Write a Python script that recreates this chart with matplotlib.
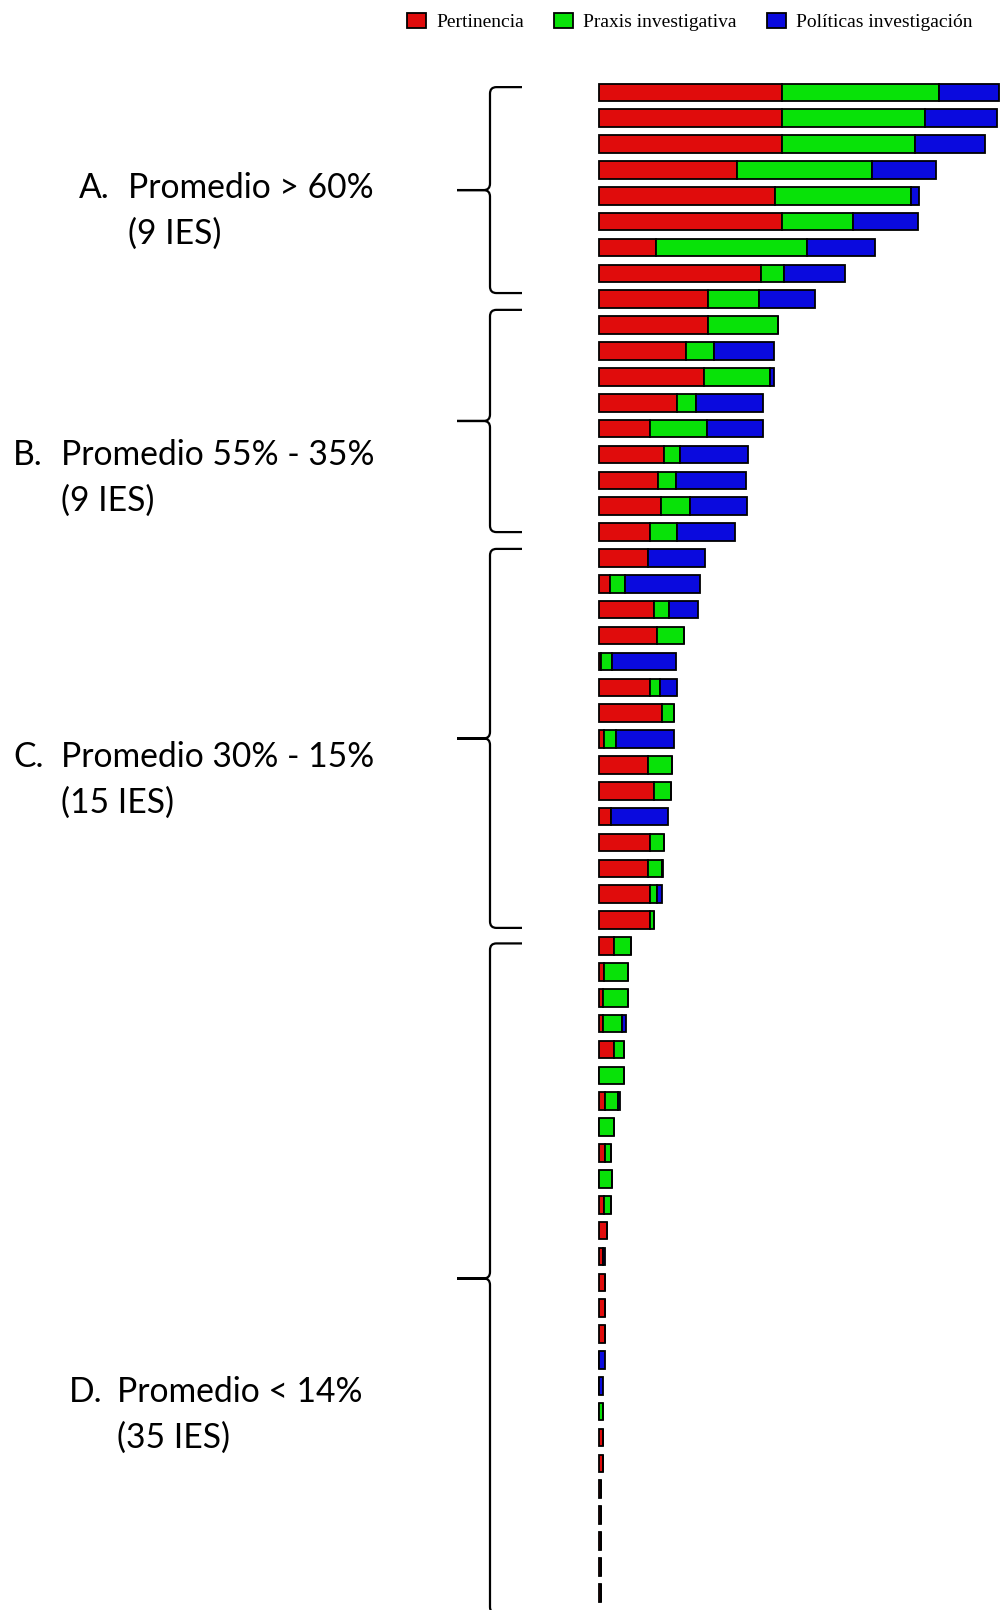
import matplotlib.pyplot as plt
from matplotlib.path import Path
from matplotlib.patches import PathPatch

# Scores per institution (IES), stacked by dimension
pertinencia = [45.8, 45.8, 45.8, 34.6, 43.9, 45.8, 14.2, 40.4, 27.25, 27.25,
               21.7, 26.2, 19.6, 12.7, 16.2, 14.75, 15.6, 12.8, 12.25, 2.7,
               13.75, 14.6, 0.6, 12.7, 15.8, 1.3, 12.3, 13.7, 3.1, 12.7,
               12.2, 12.7, 12.7, 3.7, 1.3, 1.0, 1.0, 3.8, 0, 1.6,
               0, 1.6, 0, 1.2, 2.1, 1.0, 1.5, 1.5, 1.5, 0,
               0, 0, 0.9, 0.9, 0.4, 0.4, 0.4, 0.4, 0.4]
praxis = [39.2, 35.6, 33.1, 33.75, 34.0, 17.8, 37.7, 5.75, 12.7, 17.5,
          7.0, 16.5, 4.6, 14.2, 4.0, 4.4, 7.1, 6.7, 0, 3.9,
          3.7, 6.75, 2.75, 2.5, 2.9, 3.0, 5.9, 4.2, 0, 3.6,
          3.5, 1.9, 1.1, 4.2, 6.0, 6.3, 4.75, 2.4, 6.25, 3.2,
          3.8, 1.3, 3.3, 1.7, 0, 0, 0, 0, 0, 0,
          0, 0.9, 0, 0, 0, 0, 0, 0, 0]
politicas = [15.0, 18.1, 17.5, 16.0, 2.0, 16.25, 17.1, 15.25, 14.0, 0,
             15.1, 1.1, 16.7, 14.0, 17.1, 17.7, 14.2, 14.4, 14.2, 18.75,
             7.4, 0, 16.0, 4.2, 0, 14.4, 0, 0, 14.2, 0,
             0.4, 1.2, 0, 0, 0, 0, 1.0, 0, 0, 0.5,
             0, 0, 0, 0, 0, 0.4, 0, 0, 0, 1.5,
             0.9, 0, 0, 0, 0, 0, 0, 0, 0]

series_names = ["Pertinencia", "Praxis investigativa", "Políticas investigación"]
group_letters = ["A.", "B.", "C.", "D."]
group_titles = ["Promedio > 60%", "Promedio 55% - 35%", "Promedio 30% - 15%", "Promedio < 14%"]
group_counts = ["(9 IES)", "(9 IES)", "(15 IES)", "(35 IES)"]

colors = ["#e00c0c", "#08e208", "#0a0ade"]

W, H = 1001, 1610
fig = plt.figure(figsize=(W / 100, H / 100), dpi=100)
ax = fig.add_axes([0, 0, 1, 1])

# x: 4 px per unit, zero at px 599 ; y: bar index, 25.87 px per bar, first bar at px 92.3
ax.set_xlim(-599 / 4, (W - 599) / 4)
ax.set_ylim((H - 92.3) / 25.87, -92.3 / 25.87)
ax.axis("off")

ys = list(range(len(pertinencia)))
left2 = pertinencia
left3 = [a + b for a, b in zip(pertinencia, praxis)]
bars = []
for vals, lefts, c, name in zip([pertinencia, praxis, politicas],
                                [[0] * len(ys), left2, left3], colors, series_names):
    b = ax.barh(ys, vals, left=lefts, height=0.68, color=c,
                edgecolor="black", linewidth=1.3, label=name)
    bars.append(b)


def brace(ax, y0, y1, x_tip=-35.5, x_line=-27.25, x_end=-19.25, rx=1.6, ry=0.25):
    ym = (y0 + y1) / 2
    verts = [(x_end, y0), (x_line + rx, y0), (x_line, y0), (x_line, y0 + ry),
             (x_line, ym - ry), (x_line, ym), (x_line - rx, ym), (x_tip, ym),
             (x_tip, ym), (x_line - rx, ym), (x_line, ym), (x_line, ym + ry),
             (x_line, y1 - ry), (x_line, y1), (x_line + rx, y1), (x_end, y1)]
    codes = [Path.MOVETO, Path.LINETO, Path.CURVE3, Path.CURVE3,
             Path.LINETO, Path.CURVE3, Path.CURVE3, Path.LINETO,
             Path.MOVETO, Path.LINETO, Path.CURVE3, Path.CURVE3,
             Path.LINETO, Path.CURVE3, Path.CURVE3, Path.LINETO]
    ax.add_patch(PathPatch(Path(verts, codes), fill=False, lw=1.6,
                           edgecolor="black", clip_on=False))


brace_spans = [(-0.2, 7.76), (8.41, 17.0), (17.65, 32.3), (32.9, 58.8)]
for y0, y1 in brace_spans:
    brace(ax, y0, y1)

# group labels (pixel positions -> figure fractions)
letter_x = [79, 13, 13, 69]
title_x = [128, 61, 61, 117]
line1_y = [188, 455, 757, 1392]
line2_y = [234, 501, 803, 1438]
for i in range(4):
    kw = dict(fontsize=24.2, family="Lato", va="center", ha="left", color="black")
    fig.text(letter_x[i] / W, 1 - line1_y[i] / H, group_letters[i], **kw)
    fig.text(title_x[i] / W, 1 - line1_y[i] / H, group_titles[i], **kw)
    fig.text(title_x[i] / W, 1 - line2_y[i] / H, group_counts[i], **kw)

fig.legend(handles=bars, labels=series_names, loc="upper left",
           bbox_to_anchor=(407 / W, 1 - 13 / H), ncol=3, frameon=False,
           prop={"family": "Liberation Serif", "size": 14},
           handlelength=0.98, handleheight=0.82, handletextpad=0.52,
           columnspacing=1.55, borderpad=0, borderaxespad=0)

fig.savefig("out.png", dpi=100)
